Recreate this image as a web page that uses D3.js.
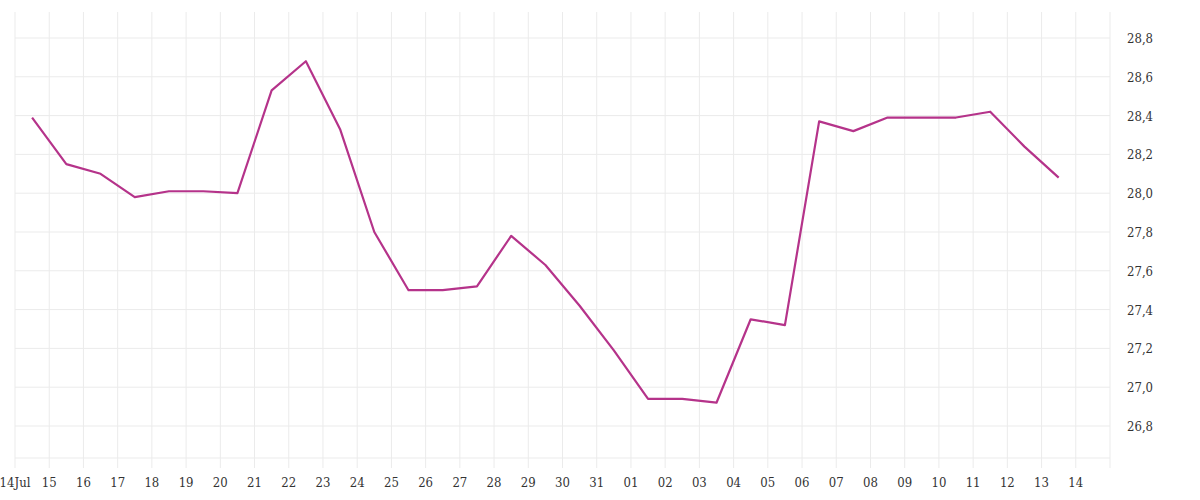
<!DOCTYPE html>
<html><head><meta charset="utf-8">
<script src="https://cdn.jsdelivr.net/npm/d3@7"></script>
<style>body{margin:0;background:#fff}text{font-family:"DejaVu Serif Condensed","Liberation Serif",serif;fill:#333}</style>
</head><body><div id="chart"></div>
<script>
// daily values, 14 Jul .. 13 Aug
var startDate = new Date(2023, 6, 14);
var values = [28.39, 28.15, 28.10, 27.98, 28.01, 28.01, 28.00, 28.53, 28.68, 28.33,
  27.80, 27.50, 27.50, 27.52, 27.78, 27.63, 27.42, 27.19, 26.94, 26.94,
  26.92, 27.35, 27.32, 28.37, 28.32, 28.39, 28.39, 28.39, 28.42, 28.24, 28.08];
var yTicks = [26.8, 27.0, 27.2, 27.4, 27.6, 27.8, 28.0, 28.2, 28.4, 28.6, 28.8];

var data = values.map(function(v, i) {
  return {date: new Date(2023, 6, 14 + i, 12), value: v};
});

var svg = d3.select("#chart").append("svg").attr("width", 1200).attr("height", 500);
var plotLeft = 15, plotRight = 1110, plotTop = 12, plotBottom = 458;

var x = d3.scaleTime().domain([startDate, new Date(2023, 7, 15)]).range([plotLeft, plotRight]);
var y = d3.scaleLinear().domain([26.635, 28.934]).range([plotBottom, plotTop]);

var days = d3.timeDay.range(startDate, new Date(2023, 7, 16));

// grid
svg.append("g").selectAll("line").data(days).enter().append("line")
  .attr("x1", d => x(d)).attr("x2", d => x(d))
  .attr("y1", plotTop).attr("y2", plotBottom + 10)
  .attr("stroke", "#ebebeb");
svg.append("g").selectAll("line").data(yTicks).enter().append("line")
  .attr("x1", plotLeft).attr("x2", plotRight)
  .attr("y1", d => y(d)).attr("y2", d => y(d))
  .attr("stroke", "#ebebeb");
svg.append("line").attr("x1", plotLeft).attr("x2", plotRight)
  .attr("y1", plotBottom).attr("y2", plotBottom).attr("stroke", "#ebebeb");

// x labels
svg.append("g").selectAll("text").data(days.slice(0, 32)).enter().append("text")
  .attr("x", d => x(d)).attr("y", plotBottom + 29)
  .attr("text-anchor", "middle").attr("font-size", 13)
  .text(function(d, i) { return i === 0 ? "14Jul" : d3.timeFormat("%d")(d); });

// y labels
svg.append("g").selectAll("text").data(yTicks).enter().append("text")
  .attr("x", 1127).attr("y", d => y(d) + 5)
  .attr("font-size", 13)
  .text(d => d3.format(".1f")(d).replace(".", ","));

var line = d3.line().x(d => x(d.date)).y(d => y(d.value));
svg.append("path").datum(data).attr("d", line)
  .attr("fill", "none").attr("stroke", "#b5338a").attr("stroke-width", 2.2)
  .attr("stroke-linejoin", "round");
</script></body></html>
